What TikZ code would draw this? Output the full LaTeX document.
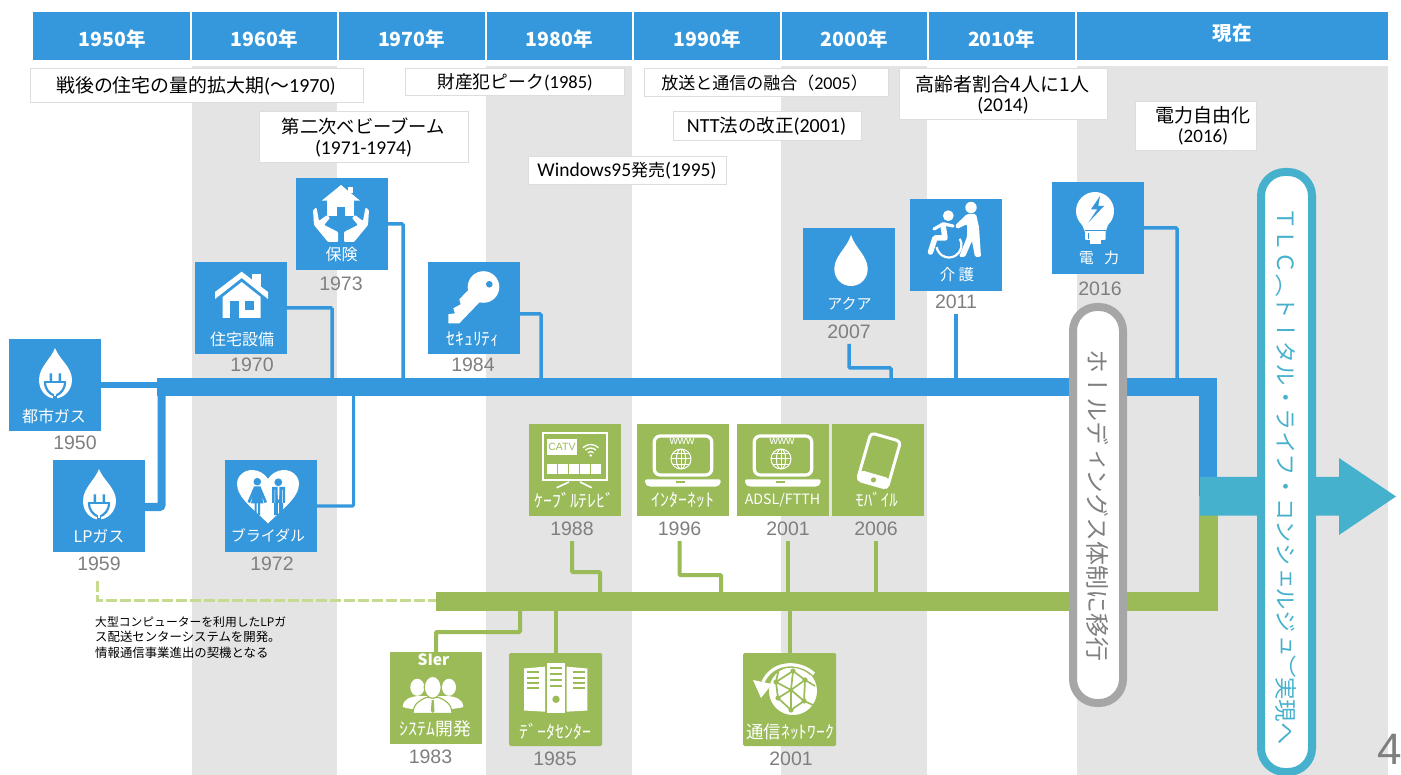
\documentclass[tikz,border=0pt]{standalone}
\usepackage{fontspec}
\setmainfont{Noto Sans CJK JP}
\newfontfamily\lat{Carlito}
\newfontfamily\numf{Liberation Sans}
\newfontfamily\vrtf[Vertical=RotatedGlyphs]{Noto Sans CJK JP}
\usetikzlibrary{calc}
\definecolor{cblue}{HTML}{3698DC}
\definecolor{cgreen}{HTML}{9BBB59}
\definecolor{cteal}{HTML}{46B1CD}
\definecolor{cband}{HTML}{E4E4E4}
\definecolor{cpill}{HTML}{A6A6A6}
\definecolor{cyear}{HTML}{7F7F7F}
\definecolor{cdash}{HTML}{C6DA90}
\definecolor{cedge}{HTML}{DDDDDD}
\newcommand{\fs}[1]{\fontsize{#1}{#1}\selectfont}
\tikzset{
  band/.style={fill=cband,draw=none},
  headcell/.style={fill=cblue,draw=none},
  headtext/.style={text=white,font=\fs{19.5}\bfseries,inner sep=0},
  infobox/.style={draw=cedge,line width=1.4pt,fill=white,anchor=north west,inner sep=0},
  infotext/.style={text=black,align=center,inner sep=0},
  tilebox/.style={minimum width=92pt,minimum height=92pt,inner sep=0,outer sep=0,anchor=north west,draw=none},
  bluetile/.style={tilebox,fill=cblue},
  greentile/.style={tilebox,fill=cgreen},
  roundtile/.style={tilebox,fill=cgreen,minimum width=93pt,minimum height=93pt,rounded corners=1.5pt},
  iconlab/.style={text=white,font=\fs{16},inner sep=0},
  kanalab/.style={text=white,font=\fs{17.8},inner sep=0},
  yearlab/.style={text=cyear,font=\numf\fs{19.5},inner sep=0,outer sep=0,minimum height=24pt},
  bconn/.style={draw=cblue,line width=3.5pt,rounded corners=1pt},
  gconn/.style={draw=cgreen,line width=4pt,rounded corners=1pt},
  barbox/.style={inner sep=0,outer sep=0,anchor=north west,draw=none},
  pillbox/.style={fill=white,line width=8pt,rounded corners=24pt},
}
% icons -----------------------------------------------------------
\newcommand{\plugdrop}{%
  \fill[white] (46,9) .. controls (42,20) and (30,28) .. (30,41) .. controls (30,52) and (38,59.5) .. (46,59.5)
     .. controls (54,59.5) and (63,52) .. (63,41) .. controls (63,28) and (50,20) .. (46,9) -- cycle;
  \fill[cblue] (40.5,34.5) rectangle (43,42) (49.5,34.5) rectangle (52,42);
  \draw[cblue,line width=2.2pt] (35,43) -- (57,43);
  \draw[cblue,line width=2.2pt] (36,43) .. controls (36,51) and (41,54.5) .. (44,56);
  \draw[cblue,line width=2.2pt] (56,43) .. controls (56,51) and (51,54.5) .. (48,56);
  \fill[cblue] (43.6,55) rectangle (48.4,60);
  \fill[white] (45,52) rectangle (47,57.5);
}
\newcommand{\houseicon}{%
  \fill[white] (56.7,12.3) rectangle (65.7,24);
  \fill[cblue] (54,17) -- (56,15) -- (60,26) -- (54,26) -- cycle;
  \fill[white] (20,30) -- (46.7,9.7) -- (73,30) -- (73,37) -- (46.7,16) -- (20,37) -- cycle;
  \fill[white] (27.7,56) -- (27.7,35) -- (46.7,20) -- (65.7,35) -- (65.7,56) -- cycle;
  \fill[cblue] (35,38.7) rectangle (44,56);
  \fill[cblue] (50,38.7) rectangle (59,48);
}
\newcommand{\careicon}{%
  \fill[white] (52,9) rectangle (57,15);
  \fill[white] (25.7,22.7) -- (45,7) -- (64,22.7) -- cycle;
  \fill[white] (30.7,22) rectangle (58,38);
  \fill[cblue] (40.7,28.7) rectangle (49,38);
  \fill[white,rounded corners=1pt] (17,32) -- (20.5,29.5) -- (23,43) -- (31,37) -- (34,40) -- (28,47) -- (42,54) -- (42,64) -- (32,64) -- (18,47) -- cycle;
  \fill[white,rounded corners=1pt] (73,32) -- (69.5,29.5) -- (67,43) -- (59,37) -- (56,40) -- (62,47) -- (48,54) -- (48,64) -- (58,64) -- (72,47) -- cycle;
}
\newcommand{\keyicon}{%
  \fill[white] (40.3,28) -- (31.3,37.3) -- (32.7,42.3) -- (25.3,46.3) -- (27,51.3) -- (20.3,52.3) -- (20.3,61.3) -- (31.3,61.3) -- (55.3,36.3) -- cycle;
  \fill[white] (55.5,25) circle (15.8);
  \fill[cblue] (61.3,22.3) circle (3.3);
}
\newcommand{\heartpeople}{%
  \fill[white] (43,63.5) .. controls (30,50) and (12,38) .. (12,24) .. controls (12,15) and (20,10) .. (27,10)
     .. controls (34,10) and (40,14) .. (43,19) .. controls (46,14) and (52,10) .. (59,10)
     .. controls (66,10) and (74,15) .. (74,24) .. controls (74,38) and (56,50) .. (43,63.5) -- cycle;
  \fill[cblue] (32.3,21.7) circle (3.8) (53.3,22.3) circle (3.9);
  \fill[cblue] (29,26.5) -- (35.5,26.5) -- (42,42) -- (39.5,43) -- (36.5,35) -- (38.5,43.5) -- (26,43.5) -- (28,35) -- (25,43) -- (22.5,42) -- cycle;
  \fill[cblue] (29.5,43) rectangle (31.5,55) (33,43) rectangle (35,55);
  \fill[cblue] (47,27) rectangle (60,43) (49,43) rectangle (52.8,55) (54,43) rectangle (58,55);
  \fill[white] (52.6,27) -- (54.4,27) -- (54.2,38) -- (53.4,40) -- (52.8,38) -- cycle;
  \fill[white] (49.5,30) rectangle (50.2,43) (57,30) rectangle (57.7,43);
}
\newcommand{\plaindrop}{%
  \fill[white] (48,7) .. controls (44,20) and (31.3,28) .. (31.3,41) .. controls (31.3,51) and (39,58) .. (48,58)
     .. controls (57,58) and (64.7,51) .. (64.7,41) .. controls (64.7,28) and (52,20) .. (48,7) -- cycle;
}
\newcommand{\nurseicon}{%
  \fill[white] (38.3,16.7) circle (5.4) (61,8.5) circle (5.7);
  \fill[white,rounded corners=1.5pt] (57,15) -- (66,15) -- (69,28) -- (71,58) -- (65,58) -- (62,42) -- (55,58) -- (49,58) -- (57,38) -- (57,25) -- (47,30) -- (45,26.5) -- cycle;
  \draw[white,line width=5.5pt,line cap=round,line join=round] (33,26) -- (35,39) -- (25,39) -- (20.5,53);
  \draw[white,line width=3.2pt,line cap=round] (33,25) -- (24,30) (34,25) -- (43,27);
  \draw[white,line width=2.2pt] (39,46) ++(-30:12.5) arc[start angle=-30,end angle=170,radius=12.5];
}
\newcommand{\bulbicon}{%
  \fill[white] (43,29) circle (19);
  \fill[white] (29,40) -- (57,40) -- (53.5,50) -- (33,50) -- cycle;
  \fill[white,rounded corners=1pt] (33,49) rectangle (53.7,58);
  \fill[white] (38,58) rectangle (48.7,62);
  \fill[cblue] (33,48) rectangle (53.7,49);
  \fill[cblue] (36,51) rectangle (36.8,57);
  \fill[cblue] (48,14) -- (39,27.3) -- (45.3,27.3) -- (36.3,40.7) -- (52,24) -- (46.3,24) -- cycle;
}
\newcommand{\tvicon}{%
  \draw[white,line width=1.6pt] (13.7,9.3) rectangle (77.7,56);
  \fill[white] (17.7,15) rectangle (48.3,31);
  \node[text=cgreen,font=\numf\fs{10.5},inner sep=0] at (33,23) {CATV};
  \fill[white] (61.7,31.5) circle (1.3);
  \foreach \r in {4,7.5,11}{\draw[white,line width=1.3pt] (61.7,31.5) ++(225:\r) arc[start angle=225,end angle=315,radius=\r];}
  \foreach \a in {18.3,29.2,40.1,51,61.9}{\fill[white] (\a,40) rectangle ++(10,10);}
  \draw[white,line width=1.6pt] (27.7,63.7) -- (40,58) (62.7,63.7) -- (51,58);
}
\newcommand{\laptop}{%
  \draw[white,line width=3.2pt,rounded corners=6pt] (17.3,12) rectangle (74.7,51);
  \fill[white,rounded corners=2pt] (8,55.3) -- (83.7,55.3) -- (83.7,60) -- (80,62.7) -- (12,62.7) -- (8,60) -- cycle;
  \fill[cgreen] (39,57.5) rectangle (48,59.3);
  \node[text=white,font=\numf\fs{11.5},inner sep=0] at (45,17.5) {www};
  \begin{scope}[white,line width=1pt]
    \draw (44,35) circle (10) (44,35) ellipse (4.6 and 10);
    \draw (34,35) -- (54,35) (44,25) -- (44,45) (35.5,29.7) -- (52.5,29.7) (35.5,40.3) -- (52.5,40.3);
  \end{scope}
}
\newcommand{\phoneicon}{%
  \begin{scope}[shift={(47,36.7)},rotate=-16]
    \fill[white,rounded corners=4pt] (-15.5,14) rectangle (15.5,24.5);
    \draw[white,line width=3pt,rounded corners=4pt] (-15.5,-24.5) rectangle (15.5,24.5);
    \fill[cgreen] (0,20) circle (2.6);
  \end{scope}
}
\newcommand{\peopleicon}{%
  \fill[white] (27.3,35.3) ellipse (7 and 8.5) (59,35.3) ellipse (7 and 8.5);
  \fill[white] (12.7,55) .. controls (13,47) and (20,45) .. (28,44) -- (58,44) .. controls (66,45) and (73,47) .. (73.3,55) .. controls (66,57) and (60,57) .. (58,57) -- (28,57) .. controls (24,57) and (18,57) .. (12.7,55) -- cycle;
  \draw[cgreen,line width=1.2pt,fill=white] (23,61.5) .. controls (23,52) and (30,48) .. (36,45.5) -- (49,45.5) .. controls (55,48) and (62,52) .. (62,61.5) -- cycle;
  \draw[cgreen,line width=1.2pt,fill=white] (42.7,35.3) ellipse (8.5 and 11);
  \fill[cgreen] (41.7,48) -- (43.7,48) -- (44.5,59) -- (42.7,61) -- (40.9,59) -- cycle;
}
\newcommand{\servericon}{%
  \fill[white] (15,15.5) -- (36,13.7) -- (36,58.7) -- (15,57.5) -- cycle;
  \fill[white] (37.7,9.7) rectangle (56,59.7);
  \fill[white] (57.7,13.7) -- (78.3,15.5) -- (78.3,57.5) -- (57.7,58.7) -- cycle;
  \foreach \y in {18,23.5,28.5,33.5}{\fill[cgreen] (17.5,\y) rectangle (29.5,\y+2.2);}
  \foreach \y in {14,19.5,25.5,31.5}{\fill[cgreen] (41,\y) rectangle (52.5,\y+2.2);}
  \foreach \y in {18,23.5,28.5,33.5}{\fill[cgreen] (64,\y) rectangle (76,\y+2.2);}
  \fill[cgreen] (47,46.3) circle (3.7);
}
\newcommand{\neticon}{%
  \fill[white] (50,38) circle (24);
  \begin{scope}[cgreen,line width=1.7pt]
    \draw (36,15) -- (33,29) -- (50,18) -- (62,27) -- (61,48) -- (48,57) -- (35,45) -- (33,29) -- (48,37) -- (62,27);
    \draw (48,37) -- (61,48) (48,37) -- (48,57) (48,37) -- (35,45) (50,18) -- (48,37) (62,27) -- (72,33) (61,48) -- (70,52);
  \end{scope}
  \fill[cgreen] (33,29) circle (2.6) (50,18) circle (2.6) (62,27) circle (2.6) (61,48) circle (2.6) (48,57) circle (2.6) (35,45) circle (2.6) (48,37) circle (2.2);
  \draw[cgreen,line width=5.5pt] (69,20) .. controls (56,8) and (30,8) .. (22,30);
  \draw[white,line width=3.2pt] (71,21) .. controls (58,8) and (30,7) .. (20,29);
  \fill[white] (10,27) -- (29,31) -- (18,45) -- cycle;
}
\begin{document}
\begin{tikzpicture}[x=1pt,y=-1pt]
\useasboundingbox (0,0) rectangle (1401,775);
% columns
\fill[band] (191.5,66) rectangle (337,775);
\fill[band] (486,66) rectangle (632,775);
\fill[band] (781,66) rectangle (927,775);
\fill[band] (1077,66) rectangle (1388,775);
% header
\foreach \a/\b in {33/190,192/337,339/485,487/632,634/780,782/927,929/1075,1077/1388}{\fill[headcell] (\a,12) rectangle (\b,60.5);}
\node[headtext] (h50) at (112,39.5) {1950年};
\node[headtext] (h60) at (264,39.5) {1960年};
\node[headtext] (h70) at (411.5,39.5) {1970年};
\node[headtext] (h80) at (559,39.5) {1980年};
\node[headtext] (h90) at (707,39.5) {1990年};
\node[headtext] (h00) at (854,39.5) {2000年};
\node[headtext] (h10) at (1001.5,39.5) {2010年};
\node[headtext] (hnow) at (1232,33) {現在};
% info boxes
\node[infobox,minimum width=333pt,minimum height=34pt] (b1) at (30,68) {};
\node[infotext,font=\fs{18.9}] at (196,85.5) {戦後の住宅の量的拡大期{\lat\fs{20}(}～{\lat\fs{20}1970)}};
\node[infobox,minimum width=219pt,minimum height=27pt] (b2) at (405,68) {};
\node[infotext,font=\fs{17.8}] at (515,82.5) {財産犯ピーク{\lat\fs{18.5}(1985)}};
\node[infobox,minimum width=244pt,minimum height=28pt] (b3) at (644,68) {};
\node[infotext,font=\fs{17}] at (764.5,83) {放送と通信の融合（{\lat\fs{18}2005}）};
\node[infobox,minimum width=208pt,minimum height=51pt] (b4) at (899,68) {};
\node[infotext,font=\fs{19}] at (1002.5,84) {高齢者割合4人に1人};
\node[infotext,font=\lat\fs{19.5}] at (1003,105.5) {(2014)};
\node[infobox,minimum width=209pt,minimum height=51pt] (b5) at (259,111) {};
\node[infotext,font=\fs{18.3}] at (363.5,126.5) {第二次ベビーブーム};
\node[infotext,font=\lat\fs{19.5}] at (363.5,148.5) {(1971-1974)};
\node[infobox,minimum width=188pt,minimum height=29pt] (b6) at (673,111) {};
\node[infotext,font=\fs{18.5}] at (766.5,126) {{\lat\fs{20}NTT}法の改正{\lat\fs{20}(2001)}};
\node[infobox,minimum width=198pt,minimum height=28pt] (b7) at (527.5,156) {};
\node[infotext,font=\fs{17}] at (627,170.5) {{\lat\fs{19.5}Windows95}発売{\lat\fs{19.5}(1995)}};
\node[infobox,minimum width=121pt,minimum height=49pt] (b8) at (1135,101) {};
\node[infotext,font=\fs{19}] at (1203,115) {電力自由化};
\node[infotext,font=\lat\fs{19}] at (1203,136.5) {(2016)};
% tiles
\node[bluetile] (gas) at (9,339) {};
\node[bluetile] (lpg) at (53,460) {};
\node[bluetile] (house) at (195,262) {};
\node[bluetile] (bridal) at (225,460) {};
\node[bluetile] (care) at (296,178) {};
\node[bluetile] (sec) at (428,262) {};
\node[bluetile] (aqua) at (803,228) {};
\node[bluetile] (nurse) at (910,199) {};
\node[bluetile] (power) at (1052,182) {};
\node[greentile] (catv) at (529,424) {};
\node[greentile] (inet) at (637,424) {};
\node[greentile] (adsl) at (737,424) {};
\node[greentile] (mobi) at (832,424) {};
\node[greentile] (sier) at (390,652) {};
\node[roundtile] (dc) at (509,653) {};
\node[roundtile] (net) at (743,653) {};
% icons
\begin{scope}[shift={(gas.north west)}]\plugdrop\end{scope}
\begin{scope}[shift={(lpg.north west)}]\plugdrop\end{scope}
\begin{scope}[shift={(house.north west)}]\houseicon\end{scope}
\begin{scope}[shift={(bridal.north west)}]\heartpeople\end{scope}
\begin{scope}[shift={(care.north west)}]\careicon\end{scope}
\begin{scope}[shift={(sec.north west)}]\keyicon\end{scope}
\begin{scope}[shift={(aqua.north west)}]\plaindrop\end{scope}
\begin{scope}[shift={(nurse.north west)}]\nurseicon\end{scope}
\begin{scope}[shift={(power.north west)}]\bulbicon\end{scope}
\begin{scope}[shift={(catv.north west)}]\tvicon\end{scope}
\begin{scope}[shift={(inet.north west)}]\laptop\end{scope}
\begin{scope}[shift={(adsl.north west)}]\laptop\end{scope}
\begin{scope}[shift={(mobi.north west)}]\phoneicon\end{scope}
\begin{scope}[shift={(sier.north west)}]\peopleicon\end{scope}
\begin{scope}[shift={(dc.north west)}]\servericon\end{scope}
\begin{scope}[shift={(net.north west)}]\neticon\end{scope}
% tile labels
\node[iconlab] at ($(gas.north west)+(45,77)$) {都市ガス};
\node[iconlab] at ($(lpg.north west)+(46,76)$) {LPガス};
\node[iconlab] at ($(house.north west)+(47,77)$) {住宅設備};
\node[iconlab,font=\fs{15}] at ($(bridal.north west)+(43,76)$) {ブライダル};
\node[iconlab] at ($(care.north west)+(45.5,76)$) {保険};
\node[kanalab] at ($(sec.north west)+(45,77)$) {ｾｷｭﾘﾃｨ};
\node[iconlab,font=\fs{15}] at ($(aqua.north west)+(46.5,76)$) {アクア};
\node[iconlab,font=\fs{15.5}] at ($(nurse.north west)+(47,76)$) {介 護};
\node[iconlab,font=\fs{15}] at ($(power.north west)+(47,76)$) {電\hspace{0.7em}力};
\node[kanalab] at ($(catv.north west)+(45.5,76)$) {ｹｰﾌﾞﾙﾃﾚﾋﾞ};
\node[kanalab] at ($(inet.north west)+(46,76)$) {ｲﾝﾀｰﾈｯﾄ};
\node[iconlab,font=\fs{14.2}] at ($(adsl.north west)+(45.5,76.5)$) {ADSL/FTTH};
\node[kanalab,font=\fs{17}] at ($(mobi.north west)+(44.5,76)$) {ﾓﾊﾞｲﾙ};
\node[text=white,font=\fs{15.5}\bfseries,inner sep=0] at ($(sier.north west)+(43.5,8)$) {SIer};
\node[kanalab] at ($(sier.north west)+(45.5,77)$) {ｼｽﾃﾑ開発};
\node[kanalab] at ($(dc.north west)+(46.5,78)$) {ﾃﾞｰﾀｾﾝﾀｰ};
\node[kanalab,font=\fs{17.5}] at ($(net.north west)+(47,78.5)$) {通信ﾈｯﾄﾜｰｸ};
% years
\node[yearlab] (ygas) at (75,443) {1950};
\node[yearlab] (ylpg) at (99,564) {1959};
\node[yearlab] (yhouse) at (252,365) {1970};
\node[yearlab] (ybridal) at (272,564) {1972};
\node[yearlab] (ycare) at (341,284) {1973};
\node[yearlab] (ysec) at (473,365) {1984};
\node[yearlab] (ycatv) at (572,529) {1988};
\node[yearlab] (yinet) at (679.5,529) {1996};
\node[yearlab] (yadsl) at (788,529) {2001};
\node[yearlab] (ymobi) at (876,529) {2006};
\node[yearlab] (ysier) at (430.5,757) {1983};
\node[yearlab] (ydc) at (555,759) {1985};
\node[yearlab] (ynet) at (791,759) {2001};
\node[yearlab] (yaqua) at (849,332) {2007};
\node[yearlab] (ynurse) at (956,302) {2011};
\node[yearlab] (ypower) at (1100,289) {2016};
% trunks
\node[barbox,fill=cblue,minimum width=1060pt,minimum height=18pt] (bluebar) at (157,378) {};
\node[barbox,fill=cblue,minimum width=18pt,minimum height=118pt] (bluedrop) at (1199,378) {};
\node[barbox,fill=cgreen,minimum width=782pt,minimum height=19pt] (greenbar) at (436,592) {};
\node[barbox,fill=cgreen,minimum width=19pt,minimum height=115pt] (greenrise) at (1199,496) {};
% junctions on the trunks
\coordinate (jhouse) at (332,380);
\coordinate (jcare) at (403,380);
\coordinate (jsec) at (541,380);
\coordinate (jaqua) at (891,380);
\coordinate (jpower) at (1177,380);
\coordinate (jlpg) at (161.5,380);
\coordinate (jbridal) at (353.5,394);
\coordinate (kaqua) at (891,368);
\coordinate (kcatv) at (600,572);
\coordinate (kinet) at (721,575);
\coordinate (ksier) at (520,632);
\coordinate (dashstart) at (97,581);
% blue connectors
\draw[draw=cblue,line width=6pt] (gas.east) -- (gas.east -| bluebar.west);
\draw[draw=cblue,line width=8pt,rounded corners=2pt] ([yshift=-1pt]lpg.east) -| (jlpg);
\draw[draw=cblue,line width=3pt,rounded corners=1pt] (bridal.east) -| (jbridal);
\draw[bconn] (house.east) -| (jhouse);
\draw[bconn] (care.east) -| (jcare);
\draw[bconn] ([yshift=-6pt]sec.east) -| (jsec);
\draw[bconn] (power.east) -| (jpower);
\draw[bconn] (yaqua.south) |- (kaqua) -- (jaqua);
\draw[bconn] (ynurse.south) -- (ynurse.south |- bluebar.north);
% green connectors
\draw[gconn] (ycatv.south) |- (kcatv) -- (kcatv |- greenbar.north);
\draw[gconn] (yinet.south) |- (kinet) -- (kinet |- greenbar.north);
\draw[gconn] (yadsl.south) -- (yadsl.south |- greenbar.north);
\draw[gconn] (ymobi.south) -- (ymobi.south |- greenbar.north);
\draw[gconn] (sier.north) |- (ksier) -- (ksier |- greenbar.south);
\draw[gconn] (dc.north) -- (dc.north |- greenbar.south);
\draw[gconn] (net.north) -- (net.north |- greenbar.south);
\draw[draw=cdash,line width=3pt,dash pattern=on 11pt off 3pt] (dashstart) |- ([yshift=1.5pt]greenbar.west);
\node[anchor=north west,align=left,inner sep=0,font=\fontsize{12.4}{15.5}\selectfont] (note) at (95,616) {{\fontsize{11.8}{15.5}\selectfont 大型コンピューターを利用したLPガ}\\ス配送センターシステムを開発。\\情報通信事業進出の契機となる};
% arrow and pills
\fill[cteal] (1200,477) -- (1339,477) -- (1339,458) -- (1396,496.5) -- (1339,535) -- (1339,515.5) -- (1200,515.5) -- cycle;
\draw[pillbox,draw=cpill] (1073,307) rectangle (1123,703);
\node[rotate=-90,text=cyear,font=\vrtf\fs{24},inner sep=0] (holding) at (1098,506) {ホールディングス体制に移行};
\draw[pillbox,draw=cteal] (1261,172) rectangle (1312,772);
\node[rotate=-90,text=cteal,font=\vrtf\fs{22.4},inner sep=0] (tlc) at (1286,476) {ＴＬＣ（トータル・ライフ・コンシェルジュ）実現へ};
\node[text=cyear,font=\numf\fs{44},inner sep=0] (pageno) at (1390,749) {4};
\end{tikzpicture}
\end{document}
